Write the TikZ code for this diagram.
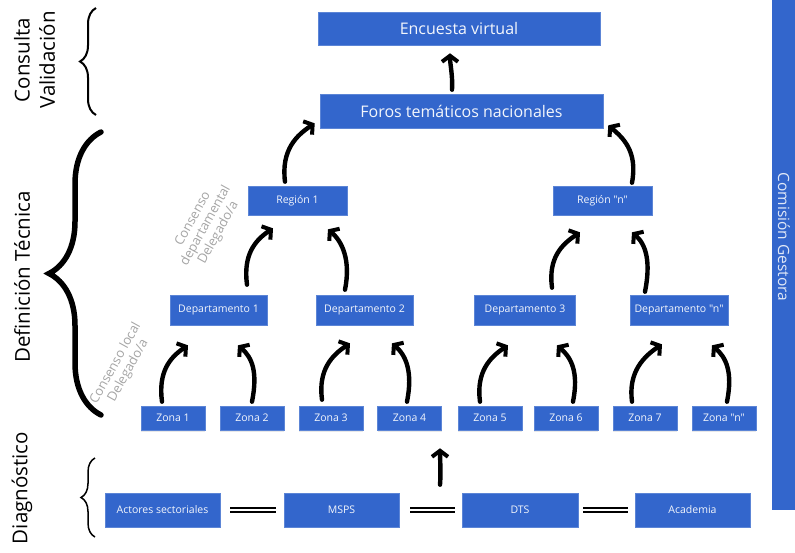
\documentclass[tikz,border=0pt]{standalone}
\usepackage{fontspec}
\setmainfont{Open Sans}[Ligatures=TeXOff]
\usetikzlibrary{arrows.meta,calc,decorations.pathreplacing,shadows}
\definecolor{boxblue}{RGB}{51,102,204}
\definecolor{lblgrey}{RGB}{165,165,165}
\tikzset{
  box/.style={draw=boxblue!80!white, line width=0.6pt, fill=boxblue, text=white!94!boxblue, inner sep=0pt, font=\fontsize{10.5}{12}\selectfont},
  bigbox/.style={box, font=\fontsize{16}{19}\selectfont},
  zbox/.style={box, minimum width=64pt, minimum height=24pt, drop shadow={opacity=0.18, shadow xshift=0pt, shadow yshift=-2pt}},
  dbox/.style={box, minimum height=30pt},
  bbox/.style={box, minimum width=115pt, minimum height=34pt, font=\fontsize{10.5}{12}\selectfont},
  carrow/.style={line width=4.4pt, line cap=round, -{Straight Barb[length=6pt,width=16pt,line width=4pt]}},
  dbl/.style={line width=2.2pt, double=white, double distance=1.1pt},
  side/.style={font=\fontsize{20.5}{24}\selectfont, rotate=90},
  cons/.style={text=lblgrey, font=\fontsize{13}{14.5}\selectfont, align=center, rotate=61},
}
\begin{document}
\begin{tikzpicture}[x=1pt,y=-1pt]
\useasboundingbox (0,0) rectangle (795,552);
% side bar
\node[fill=boxblue, minimum width=23pt, minimum height=510pt, inner sep=0pt] (bar) at (783.5,255) {};
\node[text=white!85!boxblue, rotate=-90, font=\fontsize{15.5}{18}\selectfont] (cg) at (784,237) {Comisión Gestora};
% top
\node[bigbox, minimum width=282pt, minimum height=33pt] (enc) at (459,28.5) {Encuesta virtual};
\node[bigbox, minimum width=283pt, minimum height=34pt] (foros) at (461.5,111) {Foros temáticos nacionales};
% regions
\node[box, minimum width=99pt, minimum height=29pt] (r1) at (297.5,200.5) {Región 1};
\node[box, minimum width=99pt, minimum height=29pt] (rn) at (602.5,200.5) {Región "n"};
% departments
\node[dbox, minimum width=97pt] (d1) at (218.5,310) {Departamento 1};
\node[dbox, minimum width=97pt] (d2) at (364.5,310) {Departamento 2};
\node[dbox, minimum width=101pt] (d3) at (525,310) {Departamento 3};
\node[dbox, minimum width=98pt] (dn) at (679,310) {Departamento "n"};
% zones
\node[zbox] (z1) at (173,418) {Zona 1};
\node[zbox] (z2) at (252,418) {Zona 2};
\node[zbox] (z3) at (331,418) {Zona 3};
\node[zbox] (z4) at (409.5,418) {Zona 4};
\node[zbox] (z5) at (490,418) {Zona 5};
\node[zbox] (z6) at (566,418) {Zona 6};
\node[zbox] (z7) at (645,418) {Zona 7};
\node[zbox] (zn) at (724,418) {Zona "n"};
% bottom
\node[bbox] (act) at (162.5,510) {Actores sectoriales};
\node[bbox] (msps) at (341.5,510) {MSPS};
\node[bbox, minimum width=116pt] (dts) at (520,510) {DTS};
\node[bbox] (aca) at (692.5,510) {Academia};
% double connectors
\draw[dbl, shorten <=10pt, shorten >=8pt] (act) -- (msps);
\draw[dbl, shorten <=11pt, shorten >=7pt] (msps) -- (dts);
\draw[dbl, shorten <=5pt, shorten >=7pt] (dts) -- (aca);
% straight arrows
\draw[carrow] ($(dts.north)+(-80,-8)$) .. controls +(1,-12) and +(0,10) .. ($(z4.south)+(30.5,18)$);
\draw[carrow] ($(foros.north)+(-9.5,-4)$) .. controls +(1,-12) and +(0,10) .. ($(enc.south)+(-9,8)$);
% zone -> department
\draw[carrow] ($(z1.north)+(-11,-4)$) .. controls +(-4,-30) and +(-18,12) .. ($(d1.south)+(-30.5,20)$);
\draw[carrow] ($(z2.north)+(0,-4)$) .. controls +(6,-30) and +(14,12) .. ($(d1.south)+(19.5,20)$);
\draw[carrow] ($(z3.north)+(-9,-6)$) .. controls +(-4,-30) and +(-18,12) .. ($(d2.south)+(-14.5,18)$);
\draw[carrow] ($(z4.north)+(-2.5,-4)$) .. controls +(6,-30) and +(14,12) .. ($(d2.south)+(27.5,18)$);
\draw[carrow] ($(z5.north)+(-10,-4)$) .. controls +(-4,-30) and +(-18,12) .. ($(d3.south)+(-17,20)$);
\draw[carrow] ($(z6.north)+(7,-4)$) .. controls +(6,-30) and +(14,12) .. ($(d3.south)+(32,20)$);
\draw[carrow] ($(z7.north)+(-13,-4)$) .. controls +(-4,-30) and +(-18,12) .. ($(dn.south)+(-17,19)$);
\draw[carrow] ($(zn.north)+(3,-4)$) .. controls +(6,-30) and +(14,12) .. ($(dn.south)+(33,20)$);
% department -> region
\draw[carrow] ($(d1.north)+(28.5,-10)$) .. controls +(-4,-30) and +(-18,12) .. ($(r1.south)+(-24.5,13)$);
\draw[carrow] ($(d2.north)+(-19.5,-5)$) .. controls +(6,-30) and +(14,12) .. ($(r1.south)+(30.5,14)$);
\draw[carrow] ($(d3.north)+(27,-7)$) .. controls +(-4,-30) and +(-18,12) .. ($(rn.south)+(-22.5,17)$);
\draw[carrow] ($(dn.north)+(-34,-3)$) .. controls +(6,-30) and +(14,12) .. ($(rn.south)+(29.5,17)$);
% region -> foros
\draw[carrow] ($(r1.north)+(-12.5,-4)$) .. controls +(-4,-32) and +(-18,12) .. ($(foros.south west)+(-5,-5)$);
\draw[carrow] ($(rn.north)+(29.5,-3)$) .. controls +(6,-32) and +(14,12) .. ($(foros.south east)+(5,-3)$);
% braces
\draw[line width=2pt, decorate, decoration={brace, amplitude=16pt}] (96,115) coordinate (cb1) -- (96,8) coordinate (cb2);
\draw[line width=5.5pt, line cap=round, decorate, decoration={brace, amplitude=52pt}] (101,415) coordinate (db1) -- (101,132) coordinate (db2);
\draw[line width=1.5pt, decorate, decoration={brace, amplitude=14pt}] (95,537) coordinate (gb1) -- (95,458) coordinate (gb2);
% side labels
\node[side] (cons1) at (22,60) {Consulta};
\node[side] (cons2) at (47,60) {Validación};
\node[side] (deft) at (22,277) {Definición Técnica};
\node[side] (diag) at (22,488) {Diagnóstico};
% consensus labels
\node[cons] (cl) at (122,367) {Consenso local\\Delegado/a};
\node[cons] (cd) at (206,226) {Consenso\\departamental\\Delegado/a};
\end{tikzpicture}
\end{document}
